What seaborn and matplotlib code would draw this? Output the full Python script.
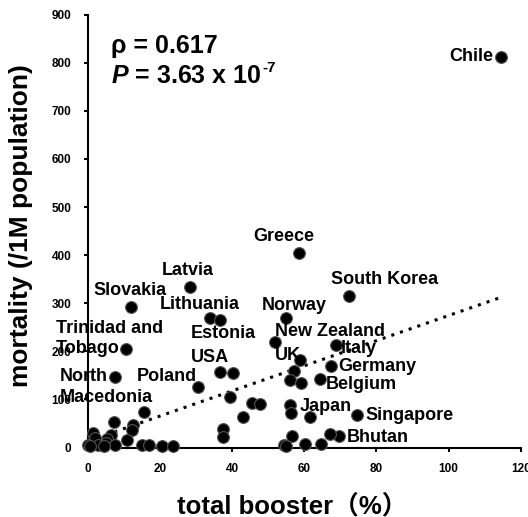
import matplotlib
matplotlib.use("Agg")
import matplotlib.pyplot as plt
import seaborn as sns
import pandas as pd

# ---------------- data ----------------
booster = [114.6, 58.4, 72.3, 28.3, 11.9, 33.7, 36.5, 55.0, 10.5, 51.9,
           68.9, 58.9, 67.5, 7.5, 36.5, 30.4, 64.3, 56.1, 74.6, 69.5,
           57.0, 56.1, 59.1, 56.3, 61.5, 67.0, 56.6, 54.3, 55.0, 60.3,
           64.6, 40.1, 39.3, 45.5, 47.8, 43.1, 37.4, 37.4,
           15.6, 7.3, 12.4, 12.1, 1.5, 6.4, 1.9, 5.4, 10.9, 0.1,
           2.9, 5.0, 7.5, 14.9, 17.0, 20.4, 23.5, 0.6, 4.3]
mortality = [812, 404, 315, 334, 293, 269, 266, 269, 204, 220,
             214, 182, 169, 147, 158, 126, 142, 88, 68, 24,
             160, 140, 135, 72, 64, 29, 24, 5, 3, 7,
             7, 154, 104, 92, 90, 64, 38, 22,
             73, 54, 47, 36, 31, 27, 19, 17, 16, 5,
             5, 9, 5, 5, 5, 3, 3, 3, 4]

label_names = ["Chile", "Greece", "South Korea", "Latvia", "Slovakia",
               "Lithuania", "Norway", "Trinidad and\nTobago", "Estonia",
               "New Zealand", "Italy", "UK", "Germany", "North\nMacedonia",
               "USA", "Poland", "Belgium", "Japan", "Singapore", "Bhutan"]

rho_text = "ρ = 0.617"
p_text = r"$\mathit{P}$ = 3.63 x 10"
p_exp = "-7"
x_title = "total booster（%）"
y_title = "mortality (/1M population)"
x_ticks = [0, 20, 40, 60, 80, 100, 120]
y_ticks = [0, 100, 200, 300, 400, 500, 600, 700, 800, 900]

# ---------------- layout of the country labels (data coords) -------
label_pos = {
    "Chile": (112.3, 814, "right"),
    "Greece": (54.3, 438, "center"),
    "South Korea": (82.2, 350, "center"),
    "Latvia": (27.6, 368, "center"),
    "Slovakia": (11.6, 327, "center"),
    "Lithuania": (31.1, 298, "center"),
    "Norway": (57.3, 296, "center"),
    "Trinidad and\nTobago": (-8.9, 226, "left"),
    "Estonia": (28.5, 237, "left"),
    "New Zealand": (51.9, 241, "left"),
    "Italy": (70.2, 206, "left"),
    "UK": (51.9, 192, "left"),
    "Germany": (69.5, 169, "left"),
    "North\nMacedonia": (-7.8, 126, "left"),
    "USA": (28.5, 187, "left"),
    "Poland": (21.8, 147, "center"),
    "Belgium": (65.8, 130, "left"),
    "Japan": (58.7, 86, "left"),
    "Singapore": (76.9, 67, "left"),
    "Bhutan": (71.7, 20, "left"),
}

df = pd.DataFrame({"booster": booster, "mortality": mortality})

sns.set_theme(style="white")
plt.rcParams["font.family"] = ["Liberation Sans", "Noto Sans CJK JP", "DejaVu Sans"]
plt.rcParams["text.color"] = "black"
plt.rcParams["axes.labelcolor"] = "black"
plt.rcParams["xtick.color"] = "black"
plt.rcParams["ytick.color"] = "black"
plt.rcParams["mathtext.fontset"] = "custom"
plt.rcParams["mathtext.rm"] = "Liberation Sans:bold"
plt.rcParams["mathtext.bf"] = "Liberation Sans:bold"
plt.rcParams["mathtext.it"] = "Liberation Sans:italic:bold"
plt.rcParams["mathtext.default"] = "bf"

fig = plt.figure(figsize=(5.28, 5.17), dpi=100)
ax = fig.add_axes([88 / 528, 1 - 447.5 / 517, (520.7 - 88) / 528, (447.5 - 14.7) / 517])

sns.regplot(data=df, x="booster", y="mortality", ax=ax, scatter=False, ci=None,
            line_kws=dict(color="black", lw=2.2, linestyle=(0, (1, 2)), zorder=2))
sns.scatterplot(data=df, x="booster", y="mortality", ax=ax, color="black",
                s=72, edgecolor="#555555", linewidth=0.8, zorder=3, clip_on=False)

ax.set_xlim(0, 120)
ax.set_ylim(0, 900)
ax.set_xticks(x_ticks)
ax.set_yticks(y_ticks)
ax.set_xticklabels([str(t) for t in x_ticks], fontsize=8.5, fontweight="bold")
ax.set_yticklabels([str(t) for t in y_ticks], fontsize=8.5, fontweight="bold")
ax.set_xlabel("")
ax.set_ylabel("")
for side in ["top", "right"]:
    ax.spines[side].set_visible(False)
for side in ["left", "bottom"]:
    ax.spines[side].set_color("black")
    ax.spines[side].set_linewidth(1.5)
ax.tick_params(axis="both", direction="out", length=3, width=1.5, color="black",
               labelcolor="black", bottom=True, left=True)
ax.tick_params(axis="y", pad=9)
ax.tick_params(axis="x", pad=8)

for name in label_names:
    x, y, ha = label_pos[name]
    ax.text(x, y, name, ha=ha, va="center", fontsize=13, fontweight="bold",
            color="black", clip_on=False, zorder=4, linespacing=1.25)

fig.text(111 / 528, 1 - 53 / 517, rho_text, ha="left", va="baseline",
         fontsize=18, fontweight="bold")
pt = fig.text(111 / 528, 1 - 83 / 517, p_text, ha="left", va="baseline",
              fontsize=18, fontweight="bold")
fig.canvas.draw()
bb = pt.get_window_extent()
fig.text((bb.x1 + 1) / 528, 1 - 72 / 517, p_exp, ha="left", va="baseline",
         fontsize=11, fontweight="bold")

fig.text(292 / 528, 1 - 513 / 517, x_title, ha="center", va="baseline",
         fontsize=18.5, fontweight="bold")
fig.text(21 / 528, 1 - 226 / 517, y_title, ha="center", va="center",
         rotation=90, fontsize=19, fontweight="bold")

fig.savefig("out.png", dpi=100)
